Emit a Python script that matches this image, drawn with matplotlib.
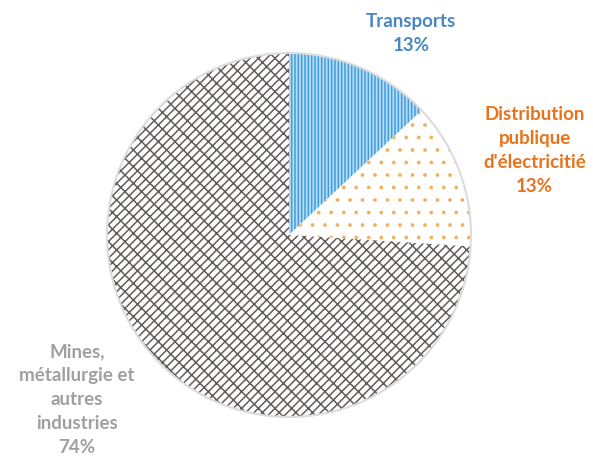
#!/usr/bin/env python3
"""Pie chart: repartition by sector (Transports, Distribution, Mines)."""

import warnings
import numpy as np
import matplotlib.pyplot as plt
import matplotlib.hatch as mhatch
from matplotlib.patches import Circle
from matplotlib.path import Path as MPath

warnings.filterwarnings('ignore')

plt.rcParams['font.family'] = ['Lato', 'DejaVu Sans']
plt.rcParams['hatch.linewidth'] = 1.1

labels = ['Transports', "Distribution\npublique\nd'électricitié", 'Mines,\nmétallurgie et\nautres\nindustries']
values = [13, 13, 74]
text_colors = ['#4a86c5', '#e8731c', '#a0a0a0']
face_colors = ['#b8ddf4', 'white', 'white']
hatch_colors = ['#3f9de0', '#f2b262', '#655c5c']
hatches = ['|||||', 'd', 'B']
label_pos = [(0.67, 1.11), (1.35, 0.47), (-1.165, -0.90)]


class BrickHatch(mhatch.HatchPatternBase):
    """Diagonal brick pattern, keyed on 'B'."""

    def __init__(self, hatch, density):
        n, m = 12, 12
        segs = []
        if 'B' in hatch:
            for k in range(-n, n + 1):
                segs.append(((-1.0, -1.0 + k / n), (2.0, 2.0 + k / n)))
            for k in range(-n, n):
                off = (k % 2) / (2 * m)
                for j in range(-m, 2 * m):
                    a = off + j / m
                    p0 = (a, a + k / n)
                    p1 = (a - 1 / (2 * n), a + k / n + 1 / (2 * n))
                    if all(-0.2 <= c <= 1.2 for c in p0 + p1):
                        segs.append((p0, p1))
        self.segs = np.array(segs, dtype=float).reshape(-1, 2)
        self.num_vertices = len(self.segs)

    def set_vertices_and_codes(self, vertices, codes):
        vertices[:] = self.segs
        codes[0::2] = MPath.MOVETO
        codes[1::2] = MPath.LINETO


class Dots(mhatch.Circles):
    """Filled dots, 8 rows per tile, keyed on 'd'."""
    size = 0.09
    filled = True

    def __init__(self, hatch, density):
        self.num_rows = hatch.count('d') * 8
        super().__init__(hatch, density)


mhatch._hatch_types.extend([BrickHatch, Dots])

fig = plt.figure(figsize=(5.93, 4.64), dpi=100)
cx, cy, r = 289, 236, 182
ax = fig.add_axes([(cx - r) / 593, (464 - cy - r) / 464, 2 * r / 593, 2 * r / 464])

wedges, _ = ax.pie(values, startangle=90, counterclock=False, radius=1,
                   colors=face_colors)
for w, h, hc in zip(wedges, hatches, hatch_colors):
    w.set_hatch(h)
    w.set_edgecolor(hc)
    w.set_linewidth(0)
    w.set_clip_on(False)

# thin grey outline around the pie
ax.add_patch(Circle((0, 0), 1.0, fill=False, edgecolor='#dcdcdc', linewidth=1.5, clip_on=False))

for lab, v, c, (x, y) in zip(labels, values, text_colors, label_pos):
    ax.text(x, y, f'{lab}\n{v}%', color=c, ha='center', va='center',
            fontsize=13.5, fontweight='bold', linespacing=1.5, clip_on=False)

ax.set_xlim(-1, 1)
ax.set_ylim(-1, 1)
ax.set_aspect('auto')
ax.axis('off')

plt.savefig('out.png', dpi=100)
plt.close()
